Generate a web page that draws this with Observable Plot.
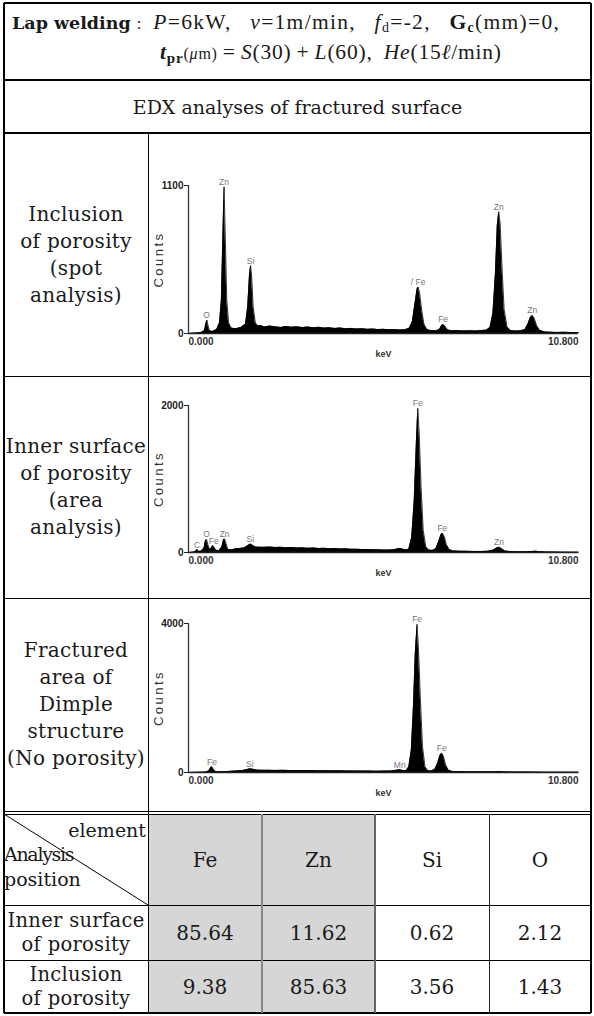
<!DOCTYPE html>
<html><head><meta charset="utf-8">
<script src="https://cdn.jsdelivr.net/npm/d3@7"></script>
<script src="https://cdn.jsdelivr.net/npm/@observablehq/plot@0.6"></script>
<style>
html,body{margin:0;padding:0;background:#fff;}
body{width:594px;height:1016px;position:relative;overflow:hidden;font-family:"DejaVu Serif",serif;color:#1a1a1a;}
.ln{position:absolute;background:#000;}
.txt{position:absolute;white-space:nowrap;}
.ctr{position:absolute;display:flex;flex-direction:column;align-items:center;justify-content:center;text-align:center;white-space:nowrap;}
.plotbox{position:absolute;}
.tm{font-family:"Liberation Serif","Times New Roman",serif;}
</style></head><body>
<script>
// ---------------- data ----------------
const panelNames = [
  ["Inclusion","of porosity","(spot","analysis)"],
  ["Inner surface","of porosity","(area","analysis)"],
  ["Fractured","area of","Dimple","structure","(No porosity)"]
];
const yMaxes = [1100, 2000, 4000];
const xTicks = [0, 10.8];

const spectrum1 = [[0.00,0],[0.20,3],[0.35,8],[0.44,20],[0.48,70],[0.51,100],[0.54,60],[0.58,20],[0.66,15],[0.78,30],[0.86,80],[0.91,250],[0.95,700],[0.985,1090],[1.02,700],[1.06,250],[1.11,80],[1.18,40],[1.30,35],[1.45,45],[1.58,70],[1.64,200],[1.69,440],[1.72,505],[1.75,420],[1.79,200],[1.85,80],[1.92,55],[2.00,60],[2.10,48],[2.25,55],[2.40,50],[2.55,45],[2.70,52],[2.85,47],[3.00,50],[3.15,44],[3.30,48],[3.45,42],[3.60,46],[3.75,40],[3.90,43],[4.05,38],[4.20,41],[4.35,36],[4.50,38],[4.65,34],[4.80,36],[4.95,31],[5.10,33],[5.25,29],[5.40,31],[5.55,27],[5.70,29],[5.85,26],[6.00,28],[6.12,40],[6.20,90],[6.27,220],[6.33,330],[6.36,345],[6.40,300],[6.46,170],[6.52,70],[6.60,30],[6.70,22],[6.85,20],[6.95,30],[7.01,60],[7.05,67],[7.10,55],[7.17,28],[7.28,20],[7.45,22],[7.60,19],[7.80,21],[7.95,19],[8.10,22],[8.25,25],[8.35,45],[8.43,150],[8.50,450],[8.55,800],[8.59,905],[8.63,820],[8.68,500],[8.74,180],[8.82,50],[8.92,22],[9.05,18],[9.20,20],[9.32,30],[9.40,70],[9.47,120],[9.52,134],[9.57,115],[9.64,60],[9.72,25],[9.85,12],[10.0,10],[10.2,8],[10.4,9],[10.6,7],[10.8,7]];
const peaks1 = [[0.50,100,"O"],[0.985,1090,"Zn"],[1.72,505,"Si"],[6.36,345,"/ Fe"],[7.05,67,"Fe"],[8.59,905,"Zn"],[9.52,134,"Zn"]];

const spectrum2 = [[0.00,0],[0.12,5],[0.19,15],[0.24,40],[0.29,15],[0.36,20],[0.43,60],[0.47,160],[0.50,177],[0.54,100],[0.59,40],[0.64,60],[0.67,95],[0.71,70],[0.76,30],[0.84,25],[0.92,70],[0.97,170],[1.00,186],[1.04,120],[1.09,40],[1.18,35],[1.30,50],[1.42,55],[1.55,65],[1.65,95],[1.71,115],[1.77,100],[1.85,75],[1.95,72],[2.10,70],[2.25,74],[2.40,68],[2.55,71],[2.70,65],[2.85,68],[3.00,62],[3.15,64],[3.30,58],[3.45,62],[3.60,55],[3.75,57],[3.90,52],[4.05,54],[4.20,48],[4.35,50],[4.50,44],[4.65,45],[4.80,40],[4.95,41],[5.10,36],[5.25,37],[5.40,33],[5.55,34],[5.70,38],[5.82,55],[5.90,50],[6.00,35],[6.10,45],[6.18,200],[6.25,700],[6.31,1500],[6.35,1960],[6.39,1600],[6.44,900],[6.50,300],[6.57,80],[6.65,35],[6.75,28],[6.85,50],[6.93,150],[6.99,240],[7.03,263],[7.08,220],[7.14,110],[7.22,40],[7.32,22],[7.50,18],[7.70,16],[7.90,15],[8.10,14],[8.30,18],[8.45,35],[8.55,65],[8.60,73],[8.66,55],[8.76,22],[8.90,12],[9.10,10],[9.30,9],[9.50,12],[9.60,18],[9.70,12],[9.90,8],[10.1,6],[10.4,5],[10.8,4]];
const peaks2 = [[0.24,40,"C"],[0.50,177,"O"],[0.70,95,"Fe"],[1.00,186,"Zn"],[1.71,115,"Si"],[6.35,1960,"Fe"],[7.03,263,"Fe"],[8.60,73,"Zn"]];

const spectrum3 = [[0.00,0],[0.20,5],[0.40,10],[0.52,20],[0.58,70],[0.62,140],[0.65,153],[0.69,90],[0.75,25],[0.90,20],[1.10,30],[1.30,40],[1.50,55],[1.62,80],[1.70,100],[1.78,90],[1.88,65],[2.00,58],[2.20,60],[2.40,56],[2.60,58],[2.80,54],[3.00,55],[3.20,51],[3.40,52],[3.60,48],[3.80,49],[4.00,45],[4.20,46],[4.40,42],[4.60,43],[4.80,39],[5.00,40],[5.20,36],[5.40,37],[5.60,40],[5.75,60],[5.85,75],[5.93,55],[6.02,50],[6.10,150],[6.17,600],[6.23,1800],[6.28,3200],[6.33,3980],[6.37,3300],[6.42,2000],[6.48,700],[6.55,150],[6.63,50],[6.72,40],[6.82,80],[6.90,250],[6.96,450],[7.01,518],[7.06,440],[7.12,200],[7.20,60],[7.30,30],[7.50,25],[7.70,22],[7.90,20],[8.10,20],[8.30,18],[8.50,22],[8.60,30],[8.70,20],[8.90,15],[9.20,14],[9.50,12],[9.80,10],[10.1,9],[10.5,8],[10.8,8]];
const peaks3 = [[0.65,153,"Fe"],[1.70,100,"Si"],[5.85,75,"Mn"],[6.33,3980,"Fe"],[7.01,518,"Fe"]];

const spectra = [spectrum1, spectrum2, spectrum3];
const peakLabels = [peaks1, peaks2, peaks3];

const elements = ["Fe","Zn","Si","O"];
const positionLabels = [["Inner surface","of porosity"],["Inclusion","of porosity"]];
const innerSurface = ["85.64","11.62","0.62","2.12"];
const inclusion = ["9.38","85.63","3.56","1.43"];
const tableRows = [innerSurface, inclusion];

// ---------------- layout ----------------
const L = 4, R = 591, T = 3, B = 1013, C1 = 148;
const colX = [148, 262, 375, 489, 591];
const rowY = {title: 80, edx: 133, p: [133, 376, 598, 811], hdr: 814, r1: 905, r2: 960};
const panelBoxes = [ // top, height, marginTop, marginBottom
  [133, 243, 52, 43],
  [376, 222, 29, 46],
  [598, 213, 25, 39]
];

function el(tag, cls, style, html) {
  const e = document.createElement(tag);
  if (cls) e.className = cls;
  Object.assign(e.style, style);
  if (html != null) e.innerHTML = html;
  document.body.appendChild(e);
  return e;
}
function hl(x1, x2, y, w = 1, c = "#000") { el("div", "ln", {left: x1 + "px", top: (y - w / 2) + "px", width: (x2 - x1) + "px", height: w + "px", background: c, zIndex: 5}); }
function vl(x, y1, y2, w = 1, c = "#000") { el("div", "ln", {left: (x - w / 2) + "px", top: y1 + "px", width: w + "px", height: (y2 - y1) + "px", background: c, zIndex: 5}); }

// gray fill for Fe and Zn columns
el("div", "", {position: "absolute", left: colX[0] + "px", top: rowY.hdr + "px", width: (colX[2] - colX[0]) + "px", height: (B - rowY.hdr) + "px", background: "#d6d6d6"});

// spectra
spectra.forEach((pts, i) => {
  const [top, h, mt, mb] = panelBoxes[i];
  const ymax = yMaxes[i];
  const svg = Plot.plot({
    width: R - C1, height: h,
    marginLeft: 40, marginRight: 13, marginTop: mt, marginBottom: mb,
    x: {domain: [xTicks[0], xTicks[1]], axis: null},
    y: {domain: [0, ymax]},
    style: {fontFamily: "'Liberation Sans', Arial, sans-serif", background: "transparent", overflow: "visible", color: "#222"},
    marks: [
      Plot.areaY(pts, {x: d => d[0], y: d => d[1], fill: "#000"}),
      Plot.lineY(pts, {x: d => d[0], y: d => d[1], stroke: "#000", strokeWidth: 0.8}),
      Plot.ruleY([0], {stroke: "#222", strokeWidth: 1.3}),
      Plot.ruleX([0], {stroke: "#333", strokeWidth: 1.3}),
      Plot.axisY({ticks: [0, ymax], tickSize: 4, tickPadding: 1, fontSize: 10, fontWeight: "bold", label: null, tickFormat: d => String(d)}),
      Plot.text([xTicks[0]], {x: d => d, frameAnchor: "bottom", text: d => d3.format(".3f")(d), textAnchor: "start", lineAnchor: "top", dy: 4, fontSize: 10, fontWeight: "bold", fill: "#333"}),
      Plot.text([xTicks[1]], {x: d => d, frameAnchor: "bottom", text: d => d3.format(".3f")(d), textAnchor: "end", lineAnchor: "top", dy: 4, fontSize: 10, fontWeight: "bold", fill: "#333"}),
      Plot.text(["keV"], {frameAnchor: "bottom", lineAnchor: "top", dy: 17, fontSize: 9, fontWeight: "bold", fill: "#333"}),
      Plot.text(["Counts"], {frameAnchor: "left", textAnchor: "middle", dx: -30, rotate: -90, fontSize: 13, fill: "#333"}),
      Plot.text(peakLabels[i], {x: d => d[0], y: d => d[1], text: d => d[2], lineAnchor: "bottom", dy: -2, fontSize: 8.5, fill: "#777"})
    ]
  });
  svg.querySelectorAll("text").forEach(t => { if (t.textContent === "Counts") t.setAttribute("letter-spacing", "2.5"); });
  const box = el("div", "plotbox", {left: C1 + "px", top: top + "px", width: (R - C1) + "px", height: h + "px", zIndex: 2});
  box.appendChild(svg);
});

// panel row labels
panelNames.forEach((lines, i) => {
  const y1 = rowY.p[i], y2 = rowY.p[i + 1];
  el("div", "ctr", {left: L + "px", top: y1 + "px", width: (C1 - L) + "px", height: (y2 - y1) + "px", fontSize: "20px", letterSpacing: "0.3px", lineHeight: "27px", zIndex: 3}, lines.map(s => `<div>${s}</div>`).join(""));
});

// title
const TS = "\u2009";
el("div", "txt tm", {left: "12px", top: "7px", fontSize: "21.5px", lineHeight: "30px", letterSpacing: "1.3px", wordSpacing: "12px", zIndex: 3},
  `<span style="font-family:'DejaVu Serif';font-weight:bold;font-size:17.5px;letter-spacing:0;word-spacing:0">Lap welding</span><span style="font-family:'DejaVu Serif';font-size:16px;letter-spacing:0">：</span><span style="word-spacing:0"> </span><i>P</i>=6kW, <i>v</i>=1m/min, <i>f</i><sub style="font-size:14px;vertical-align:-3px">d</sub>=-2, <b>G</b><sub style="font-size:14px;vertical-align:-3px;font-weight:bold">c</sub>(mm)=0,`);
el("div", "txt tm", {left: "160px", top: "37px", fontSize: "21.5px", lineHeight: "30px", letterSpacing: "0.8px", wordSpacing: "5px", zIndex: 3},
  `<b><i>t</i></b><sub style="font-size:15px;vertical-align:-4px;font-weight:bold">pr</sub><span style="font-size:16px">(<i>μ</i>m)</span>${TS}=${TS}<i>S</i>(30)${TS}+${TS}<i>L</i>(60), <i>He</i>(15<i>ℓ</i>/min)`);

// EDX header
el("div", "ctr", {left: L + "px", top: rowY.title + "px", width: (R - L) + "px", height: (rowY.edx - rowY.title) + "px", fontSize: "19px", zIndex: 3}, "EDX analyses of fractured surface");

// bottom table header
el("div", "txt", {left: "0px", top: "817px", width: "146px", textAlign: "right", fontSize: "19px", lineHeight: "26px", zIndex: 6}, "element");
el("div", "txt", {left: "4px", top: "841px", fontSize: "19px", lineHeight: "26px", letterSpacing: "-1.3px", zIndex: 6}, "Analysis");
el("div", "txt", {left: "4px", top: "866px", fontSize: "19px", lineHeight: "26px", zIndex: 6}, "position");
elements.forEach((e, j) => {
  el("div", "ctr", {left: colX[j] + "px", top: rowY.hdr + "px", width: (colX[j + 1] - colX[j]) + "px", height: (rowY.r1 - rowY.hdr) + "px", fontSize: "20px", zIndex: 3}, e);
});
const rowTops = [rowY.r1, rowY.r2, B];
tableRows.forEach((vals, r) => {
  const y1 = rowTops[r], y2 = rowTops[r + 1];
  el("div", "ctr", {left: L + "px", top: y1 + "px", width: (C1 - L) + "px", height: (y2 - y1) + "px", fontSize: "19.5px", letterSpacing: "0.3px", lineHeight: "24px", zIndex: 3}, positionLabels[r].map(s => `<div>${s}</div>`).join(""));
  vals.forEach((v, j) => {
    el("div", "ctr", {left: colX[j] + "px", top: y1 + "px", width: (colX[j + 1] - colX[j]) + "px", height: (y2 - y1) + "px", fontSize: "20px", zIndex: 3}, v);
  });
});

// diagonal
const ns = "http://www.w3.org/2000/svg";
const dsvg = document.createElementNS(ns, "svg");
dsvg.setAttribute("width", 594); dsvg.setAttribute("height", 1016);
Object.assign(dsvg.style, {position: "absolute", left: "0", top: "0", zIndex: 4});
const dl = document.createElementNS(ns, "line");
dl.setAttribute("x1", L); dl.setAttribute("y1", rowY.hdr); dl.setAttribute("x2", C1); dl.setAttribute("y2", rowY.r1);
dl.setAttribute("stroke", "#000"); dl.setAttribute("stroke-width", 1);
dsvg.appendChild(dl); document.body.appendChild(dsvg);

// borders
hl(L, R, T, 1.5); hl(L, R, B, 1.5);
vl(L, T, B, 1.5); vl(R, T, B, 1.5);
hl(L, R, rowY.title, 1.2); hl(L, R, rowY.edx, 1.2);
hl(L, R, rowY.p[1]); hl(L, R, rowY.p[2]);
hl(L, R, 811); hl(L, R, 814);
vl(C1, rowY.edx, B);
hl(L, R, rowY.r1); hl(L, R, rowY.r2);
vl(colX[1], rowY.hdr, B, 1.2, "#888");
vl(colX[2], rowY.hdr, B, 1.5, "#666");
vl(colX[3], rowY.hdr, B, 1, "#222");
</script>
</body></html>
